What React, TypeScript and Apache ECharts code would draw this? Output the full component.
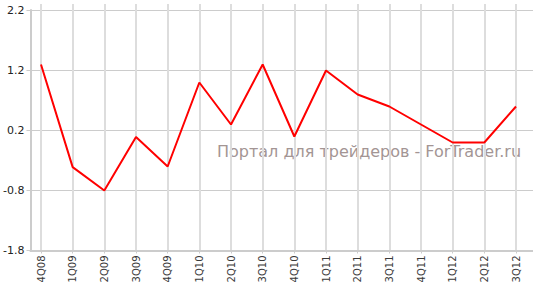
import React, { useEffect, useRef } from "react";
import * as echarts from "echarts";

const categories = ["4Q08", "1Q09", "2Q09", "3Q09", "4Q09", "1Q10", "2Q10", "3Q10", "4Q10", "1Q11", "2Q11", "3Q11", "4Q11", "1Q12", "2Q12", "3Q12"];
const values = [1.3, -0.41, -0.8, 0.09, -0.4, 1.0, 0.3, 1.3, 0.1, 1.2, 0.8, 0.6, 0.3, 0.0, 0.0, 0.6];
const watermark = "Портал для трейдеров - ForTrader.ru";

const Y_MIN = -1.8;
const Y_TOP = 2.2;
const PX_PER_UNIT = 60;
const PLOT_BOTTOM = 250.5;
const GRID_TOP = 10;
const LINES_TOP = 4;
const Y_MAX_EXT = Y_MIN + (PLOT_BOTTOM - LINES_TOP) / PX_PER_UNIT;

export default function App() {
  const ref = useRef<HTMLDivElement>(null);
  useEffect(() => {
    if (!ref.current) return;
    const chart = echarts.init(ref.current, null, { renderer: "svg" });
    chart.setOption({
      animation: false,
      backgroundColor: "#ffffff",
      grid: [
        { left: 24, top: GRID_TOP, right: 0, height: PLOT_BOTTOM - GRID_TOP },
        { left: 41, top: LINES_TOP, right: 17, height: PLOT_BOTTOM - LINES_TOP },
      ],
      xAxis: [
        {
          gridIndex: 0,
          type: "value",
          min: 0,
          max: 1,
          axisLine: { show: true, onZero: false, lineStyle: { color: "#cccccc", width: 2 } },
          axisTick: { show: false },
          axisLabel: { show: false },
          splitLine: { show: false },
        },
        {
          gridIndex: 1,
          type: "category",
          data: categories,
          boundaryGap: false,
          axisLine: { show: false, onZero: false },
          axisTick: { show: true, length: 3, lineStyle: { color: "#cccccc" } },
          axisLabel: {
            rotate: 90,
            interval: 0,
            margin: 5,
            fontSize: 10,
            fontFamily: "DejaVu Sans",
            color: "#3a3a3a",
          },
          splitLine: { show: true, lineStyle: { color: "#dddddd", width: 2 } },
        },
      ],
      yAxis: [
        {
          gridIndex: 0,
          type: "value",
          min: Y_MIN,
          max: Y_TOP,
          interval: 1,
          axisLine: { show: true, lineStyle: { color: "#cccccc", width: 2 } },
          axisTick: { show: true, length: 4, lineStyle: { color: "#cccccc" } },
          axisLabel: {
            margin: 6,
            fontSize: 11,
            fontFamily: "DejaVu Sans",
            color: "#222222",
            formatter: (v: number) => v.toFixed(1),
          },
          splitLine: {
            show: true,
            lineStyle: { color: "#cccccc", width: 1 },
          },
        },
        {
          gridIndex: 1,
          type: "value",
          min: Y_MIN,
          max: Y_MAX_EXT,
          show: false,
          splitLine: { show: false },
        },
      ],
      graphic: [
        {
          type: "text",
          left: 217,
          top: 143,
          silent: true,
          style: {
            text: watermark,
            fontSize: 16,
            fontFamily: "DejaVu Sans",
            fill: "#a39594",
          },
        },
      ],
      series: [
        {
          type: "line",
          xAxisIndex: 1,
          yAxisIndex: 1,
          data: values,
          symbol: "none",
          lineStyle: { color: "#ff0000", width: 2 },
          z: 5,
        },
      ],
    });
    return () => chart.dispose();
  }, []);
  return (
    <div
      ref={ref}
      style={{ position: "absolute", left: 0, top: 0, width: 533, height: 286 }}
    />
  );
}
